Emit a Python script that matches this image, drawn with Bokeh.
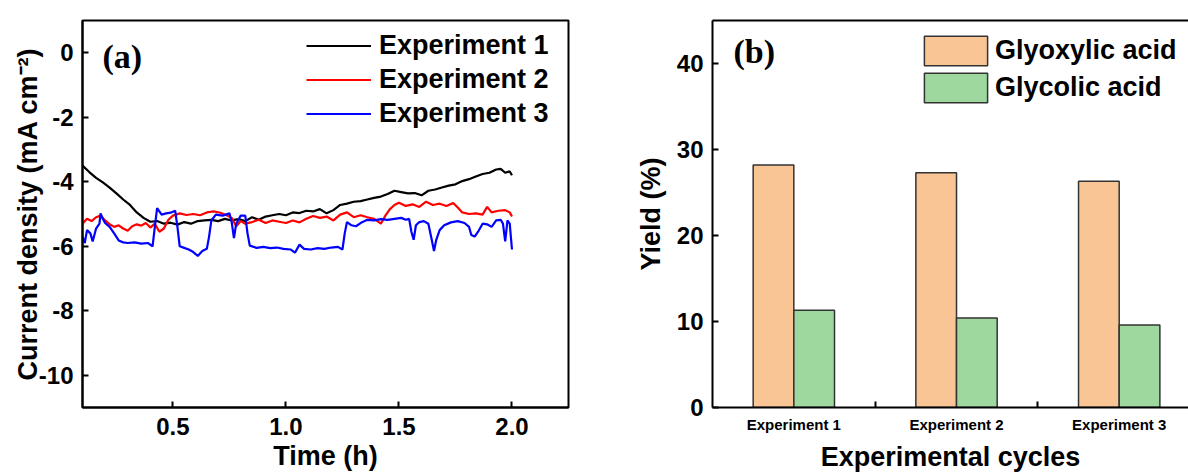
from bokeh.plotting import figure
from bokeh.layouts import row
from bokeh.models import (ColumnDataSource, Legend, LegendItem, Label, FixedTicker,
                          LinearAxis, Range1d)
from bokeh.embed import file_html
from bokeh.resources import INLINE

# ---------------- data: panel (a) ----------------
exp1_t = [0.10, 0.13, 0.16, 0.19, 0.22, 0.25, 0.28, 0.31, 0.34, 0.37, 0.40, 0.43, 0.46, 0.49,
          0.52, 0.55, 0.58, 0.61, 0.64, 0.67, 0.70, 0.73, 0.76, 0.79, 0.82, 0.85, 0.88, 0.91,
          0.94, 0.97, 1.00, 1.03, 1.06, 1.09, 1.12, 1.15, 1.18, 1.21, 1.24, 1.27, 1.30, 1.33,
          1.36, 1.39, 1.42, 1.45, 1.48, 1.51, 1.54, 1.57, 1.60, 1.63, 1.66, 1.69, 1.72, 1.75,
          1.78, 1.81, 1.84, 1.87, 1.90, 1.93, 1.95, 1.97, 1.99, 2.00]
exp1_j = [-3.50, -3.70, -3.88, -4.02, -4.18, -4.36, -4.55, -4.72, -4.95, -5.12, -5.24, -5.22,
          -5.30, -5.27, -5.33, -5.25, -5.30, -5.22, -5.20, -5.18, -5.22, -5.15, -5.20, -5.16,
          -5.22, -5.10, -5.18, -5.08, -5.04, -5.00, -5.04, -4.95, -4.97, -4.90, -4.92, -4.85,
          -4.98, -4.88, -4.72, -4.68, -4.62, -4.60, -4.55, -4.50, -4.46, -4.38, -4.28, -4.32,
          -4.36, -4.35, -4.42, -4.28, -4.24, -4.18, -4.12, -4.08, -3.98, -3.92, -3.84, -3.76,
          -3.72, -3.62, -3.60, -3.72, -3.68, -3.80]

exp2_t = [0.10, 0.12, 0.14, 0.16, 0.18, 0.20, 0.22, 0.24, 0.26, 0.28, 0.30, 0.32, 0.34, 0.36,
          0.38, 0.40, 0.42, 0.44, 0.46, 0.48, 0.50, 0.53, 0.56, 0.59, 0.62, 0.65, 0.68, 0.71,
          0.74, 0.76, 0.78, 0.80, 0.82, 0.85, 0.88, 0.91, 0.94, 0.97, 1.00, 1.03, 1.06, 1.09,
          1.12, 1.15, 1.18, 1.21, 1.24, 1.27, 1.30, 1.33, 1.36, 1.39, 1.42, 1.44, 1.46, 1.48,
          1.50, 1.53, 1.56, 1.59, 1.62, 1.65, 1.68, 1.71, 1.74, 1.76, 1.78, 1.81, 1.84, 1.87,
          1.89, 1.91, 1.94, 1.97, 1.99, 2.00]
exp2_j = [-5.30, -5.15, -5.22, -5.10, -5.05, -5.20, -5.32, -5.40, -5.35, -5.45, -5.52, -5.38,
          -5.32, -5.36, -5.28, -5.42, -5.30, -5.55, -5.45, -5.18, -5.05, -4.98, -5.03, -5.00,
          -5.04, -4.95, -4.92, -4.96, -5.05, -5.12, -5.38, -5.22, -5.30, -5.25, -5.18, -5.28,
          -5.20, -5.24, -5.28, -5.20, -5.26, -5.15, -5.06, -5.12, -5.08, -5.20, -5.02, -4.95,
          -5.10, -5.04, -5.10, -5.15, -5.30, -5.05, -4.85, -4.72, -4.65, -4.75, -4.70, -4.78,
          -4.62, -4.72, -4.68, -4.75, -4.66, -4.80, -4.95, -5.00, -4.98, -5.02, -4.78, -4.95,
          -4.90, -4.88, -4.95, -5.08]

exp3_t = [0.10, 0.11, 0.12, 0.135, 0.145, 0.16, 0.175, 0.18, 0.19, 0.20, 0.22, 0.24, 0.26,
          0.28, 0.30, 0.33, 0.36, 0.39, 0.41, 0.42, 0.43, 0.45, 0.47, 0.49, 0.51, 0.52, 0.53,
          0.55, 0.57, 0.59, 0.61, 0.63, 0.65, 0.66, 0.67, 0.69, 0.72, 0.75, 0.76, 0.77, 0.78,
          0.80, 0.82, 0.83, 0.84, 0.87, 0.90, 0.93, 0.96, 0.99, 1.02, 1.04, 1.06, 1.08, 1.11,
          1.14, 1.17, 1.20, 1.23, 1.25, 1.26, 1.27, 1.29, 1.31, 1.33, 1.36, 1.39, 1.42, 1.45,
          1.48, 1.51, 1.53, 1.545, 1.555, 1.565, 1.575, 1.59, 1.61, 1.63, 1.645, 1.655, 1.665,
          1.68, 1.70, 1.73, 1.76, 1.79, 1.81, 1.82, 1.835, 1.85, 1.87, 1.89, 1.91, 1.93, 1.95,
          1.96, 1.97, 1.98, 1.99, 2.00]
exp3_j = [-5.70, -5.90, -5.50, -5.60, -5.85, -5.45, -5.30, -4.98, -5.15, -5.28, -5.40, -5.60,
          -5.82, -5.88, -5.90, -5.88, -5.92, -5.90, -6.00, -5.40, -4.82, -5.02, -4.98, -4.96,
          -4.90, -5.40, -6.00, -6.05, -6.10, -6.18, -6.30, -6.15, -6.08, -5.70, -5.20, -5.02,
          -5.05, -4.98, -5.25, -5.75, -5.30, -5.05, -5.05, -5.60, -5.98, -6.05, -6.02, -6.06,
          -6.04, -6.08, -6.10, -6.20, -5.95, -6.08, -6.10, -6.06, -6.08, -6.04, -6.02, -6.10,
          -5.60, -5.25, -5.35, -5.38, -5.28, -5.18, -5.20, -5.16, -5.18, -5.15, -5.12, -5.18,
          -5.15, -5.55, -5.80, -5.35, -5.25, -5.22, -5.30, -5.80, -6.15, -5.80, -5.50, -5.35,
          -5.26, -5.22, -5.28, -5.40, -5.65, -5.70, -5.55, -5.30, -5.32, -5.40, -5.20, -5.18,
          -5.30, -5.85, -5.20, -5.30, -6.10]

series_names = ["Experiment 1", "Experiment 2", "Experiment 3"]
series_colors = ["#000000", "#FF0000", "#0000FF"]
a_xticks = [0.5, 1.0, 1.5, 2.0]
a_xtick_labels = ["0.5", "1.0", "1.5", "2.0"]
a_yticks = [-10, -8, -6, -4, -2, 0]
a_ytick_labels = ["-10", "-8", "-6", "-4", "-2", "0"]

# ---------------- data: panel (b) ----------------
experiments = ["Experiment 1", "Experiment 2", "Experiment 3"]
glyoxylic = [28.2, 27.3, 26.3]
glycolic = [11.3, 10.4, 9.6]
b_yticks = [0, 10, 20, 30, 40]

FONT = "Liberation Sans"
SERIF = "Liberation Serif"

# ================= panel (a) =================
p1 = figure(width=600, height=474, output_backend="svg", toolbar_location=None,
            x_range=Range1d(0.1, 2.25), y_range=Range1d(-11, 1),
            min_border_left=82, min_border_right=32, min_border_top=15, min_border_bottom=67)
p1.grid.visible = False
p1.outline_line_color = "black"
p1.outline_line_width = 2
p1.background_fill_color = "white"
p1.border_fill_color = "white"

renderers = []
for t, j, c in zip([exp1_t, exp2_t, exp3_t], [exp1_j, exp2_j, exp3_j], series_colors):
    r = p1.line(t, j, line_color=c, line_width=2.2)
    renderers.append(r)

for ax in (p1.xaxis[0], p1.yaxis[0]):
    ax.axis_line_width = 2
    ax.major_tick_line_width = 2
    ax.major_tick_in = 6
    ax.major_tick_out = 0
    ax.minor_tick_line_color = None
    ax.major_label_text_font = FONT
    ax.major_label_text_font_style = "bold"
    ax.major_label_text_font_size = "24px"
    ax.major_label_text_color = "black"
    ax.axis_label_text_font = FONT
    ax.axis_label_text_font_style = "bold"
    ax.axis_label_text_font_size = "27px"
    ax.axis_label_text_color = "black"

p1.xaxis[0].ticker = FixedTicker(ticks=a_xticks)
p1.xaxis[0].major_label_overrides = {t: l for t, l in zip(a_xticks, a_xtick_labels)}
p1.xaxis[0].major_label_standoff = 10
p1.xaxis[0].axis_label = "Time (h)"
p1.xaxis[0].axis_label_standoff = 3
p1.yaxis[0].ticker = FixedTicker(ticks=a_yticks)
p1.yaxis[0].major_label_overrides = {t: l for t, l in zip(a_yticks, a_ytick_labels)}
p1.yaxis[0].major_label_standoff = 9
p1.yaxis[0].axis_label = "Current density (mA cm\u207b\u00b2)"
p1.yaxis[0].axis_label_standoff = -7

leg1 = Legend(items=[LegendItem(label=n, renderers=[r]) for n, r in zip(series_names, renderers)],
              location=(224, 278), padding=0, margin=0, spacing=3,
              glyph_width=65, glyph_height=31, label_height=31, label_standoff=8,
              label_text_font=FONT, label_text_font_style="bold", label_text_font_size="27px",
              label_text_color="black",
              border_line_color=None, background_fill_alpha=0)
p1.add_layout(leg1)

p1.add_layout(Label(x=0.188, y=-0.13, text="(a)", text_font=SERIF, text_font_style="bold",
                    text_font_size="34px", text_color="black",
                    text_baseline="middle", text_align="left"))

# ================= panel (b) =================
p2 = figure(width=588, height=474, output_backend="svg", toolbar_location=None,
            x_range=Range1d(0.5, 3.426), y_range=Range1d(0, 45),
            min_border_left=112, min_border_right=0, min_border_top=20, min_border_bottom=63)
p2.grid.visible = False
p2.outline_line_color = None
p2.background_fill_color = "white"
p2.border_fill_color = "white"

idx = list(range(1, len(experiments) + 1))
src = ColumnDataSource(dict(
    xo=[i - 0.125 for i in idx], xg=[i + 0.125 for i in idx],
    glyoxylic=glyoxylic, glycolic=glycolic))
rb1 = p2.vbar(x="xo", top="glyoxylic", width=0.25, source=src,
              fill_color="#F9C595", line_color="#333333", line_width=1.5)
rb2 = p2.vbar(x="xg", top="glycolic", width=0.25, source=src,
              fill_color="#9ED89E", line_color="#333333", line_width=1.5)

for ax in (p2.xaxis[0], p2.yaxis[0]):
    ax.axis_line_width = 2
    ax.major_tick_line_width = 2
    ax.minor_tick_line_width = 2
    ax.major_tick_in = 6
    ax.major_tick_out = 0
    ax.minor_tick_in = 6
    ax.minor_tick_out = 0
    ax.major_label_text_font = FONT
    ax.major_label_text_font_style = "bold"
    ax.major_label_text_color = "black"
    ax.axis_label_text_font = FONT
    ax.axis_label_text_font_style = "bold"
    ax.axis_label_text_font_size = "27px"
    ax.axis_label_text_color = "black"

p2.xaxis[0].ticker = FixedTicker(ticks=idx, minor_ticks=[1.5, 2.5])
p2.xaxis[0].major_tick_line_color = None
p2.xaxis[0].major_label_overrides = {i: e for i, e in zip(idx, experiments)}
p2.xaxis[0].major_label_text_font_size = "15px"
p2.xaxis[0].major_label_standoff = 8
p2.xaxis[0].axis_label = "Experimental cycles"
p2.xaxis[0].axis_label_standoff = 6

p2.yaxis[0].ticker = FixedTicker(ticks=b_yticks)
p2.yaxis[0].minor_tick_line_color = None
p2.yaxis[0].major_label_text_font_size = "24px"
p2.yaxis[0].major_label_standoff = 9
p2.yaxis[0].axis_label = "Yield (%)"
p2.yaxis[0].axis_label_standoff = 8

top_ax = LinearAxis(axis_line_width=2, ticker=FixedTicker(ticks=[]),
                    major_tick_line_color=None, minor_tick_line_color=None)
p2.add_layout(top_ax, "above")

leg2 = Legend(items=[LegendItem(label="Glyoxylic acid", renderers=[rb1]),
                     LegendItem(label="Glycolic acid", renderers=[rb2])],
              location=(204, 301), padding=0, margin=0, spacing=-3,
              glyph_width=79, glyph_height=37, label_height=37, label_standoff=0,
              label_text_font=FONT, label_text_font_style="bold", label_text_font_size="27px",
              label_text_color="black",
              border_line_color=None, background_fill_alpha=0)
p2.add_layout(leg2)

p2.add_layout(Label(x=0.629, y=41.4, text="(b)", text_font=SERIF, text_font_style="bold",
                    text_font_size="34px", text_color="black",
                    text_baseline="middle", text_align="left"))

layout = row(p1, p2, spacing=0)
open("out.html", "w").write(file_html(layout, INLINE))
